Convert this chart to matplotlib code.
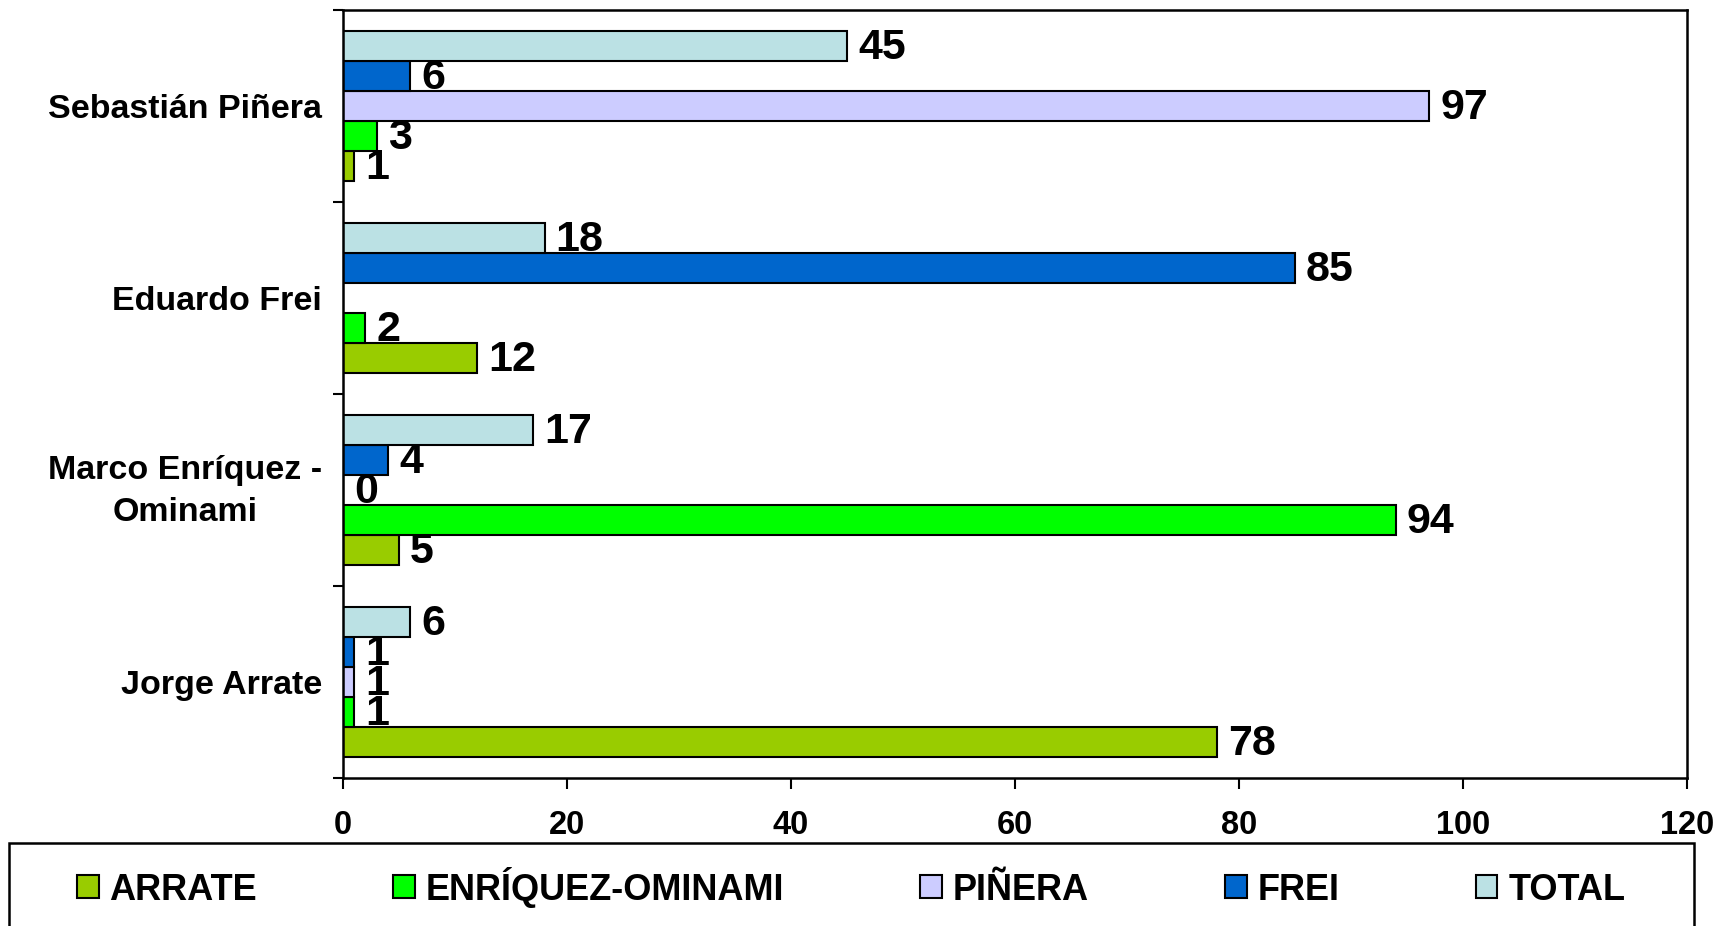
import numpy as np
import matplotlib
matplotlib.use("Agg")
import matplotlib.pyplot as plt
from matplotlib.patches import Rectangle
from matplotlib.transforms import ScaledTranslation

plt.rcParams['font.family'] = ['Liberation Sans', 'DejaVu Sans']
plt.rcParams['font.weight'] = 'bold'

categories = ["Jorge Arrate", "Marco Enríquez -\nOminami", "Eduardo Frei", "Sebastián Piñera"]
series_names = ["ARRATE", "ENRÍQUEZ-OMINAMI", "PIÑERA", "FREI", "TOTAL"]
arrate = [78, 5, 12, 1]
enriquez = [1, 94, 2, 3]
pinera = [1, 0, None, 97]
frei = [1, 4, 85, 6]
total = [6, 17, 18, 45]
colors = ["#99CC00", "#00FF00", "#CCCCFF", "#0066CC", "#BBE1E4"]
xticks = [0, 20, 40, 60, 80, 100, 120]

series = [arrate, enriquez, pinera, frei, total]

fig = plt.figure(figsize=(17.19, 9.26), dpi=100)
ax = fig.add_axes([343 / 1719, 1 - 778 / 926, (1687 - 343) / 1719, (778 - 10) / 926])

y = np.arange(len(categories))
h = 0.157
for i, (name, vals, col) in enumerate(zip(series_names, series, colors)):
    w = [np.nan if v is None else v for v in vals]
    ypos = y + (i - 2) * h
    ax.barh(ypos, w, height=h, color=col, edgecolor='black', linewidth=1.5, label=name)
    for v, yc in zip(vals, ypos):
        if v is None:
            continue
        ax.annotate(str(v), xy=(v, yc), xytext=(8, -1.5), textcoords='offset points',
                    va='center', ha='left', fontsize=31, fontweight='bold')

ax.set_xlim(0, 120)
ax.set_ylim(-0.5, 3.5)
ax.set_xticks(xticks)
ax.set_xticklabels([str(t) for t in xticks], fontsize=23.5, fontweight='bold')
ax.tick_params(axis='x', direction='out', length=8, width=1.5, pad=15)

ax.set_yticks([-0.5, 0.5, 1.5, 2.5, 3.5])
ax.set_yticklabels([])
ax.tick_params(axis='y', which='major', direction='out', length=7, width=1.5)
ax.set_yticks(y, minor=True)
ax.set_yticklabels(categories, minor=True, fontsize=24.5, fontweight='bold',
                   multialignment='center', linespacing=1.45)
ax.tick_params(axis='y', which='minor', length=0, pad=15)
for lab in ax.get_yticklabels(minor=True):
    if '\n' in lab.get_text():
        lab.set_transform(lab.get_transform() + ScaledTranslation(0, 0.075, fig.dpi_scale_trans))

for s in ax.spines.values():
    s.set_linewidth(1.8)
    s.set_color('black')

# legend
handles, labs = ax.get_legend_handles_labels()
fig.legend(handles, labs, loc='center left', bbox_to_anchor=(77 / 1719, 1 - 887 / 926),
           ncol=5, frameon=False, prop={'weight': 'bold', 'size': 26},
           handlelength=0.6, handleheight=0.6, handletextpad=0.3,
           columnspacing=3.77, borderpad=0, borderaxespad=0)
fig.patches.append(Rectangle((9 / 1719, -0.05), (1694 - 9) / 1719, 0.05 + 1 - 843 / 926,
                             transform=fig.transFigure, fill=False,
                             edgecolor='black', linewidth=1.8))

fig.savefig("out.png", dpi=100)
